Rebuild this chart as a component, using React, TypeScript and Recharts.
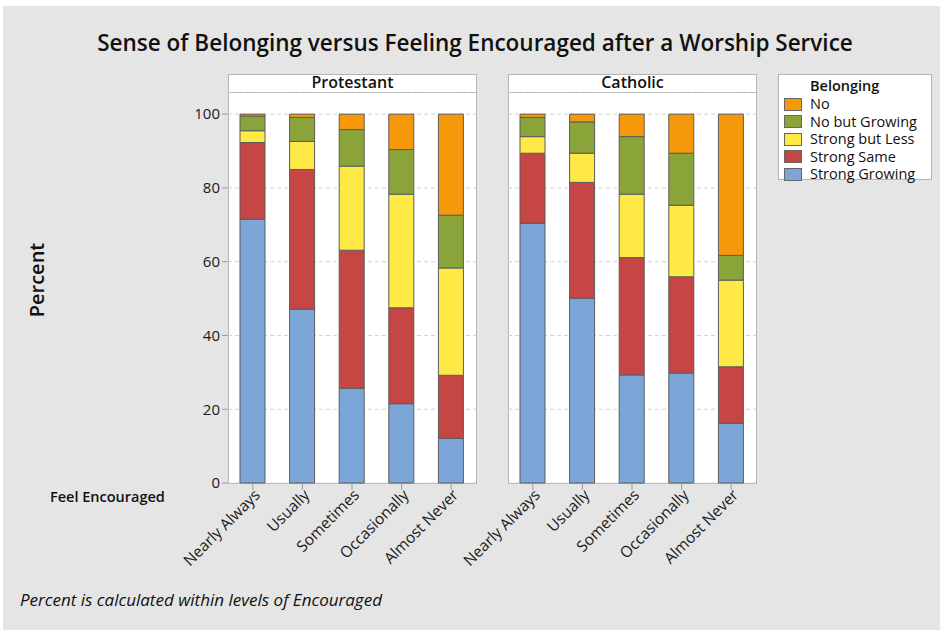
import React from "react";
import { Bar, BarChart, CartesianGrid, XAxis, YAxis } from "recharts";

const categories = ["Nearly Always", "Usually", "Sometimes", "Occasionally", "Almost Never"];

// percent within each level of Encouraged, bottom to top
const protStrongGrowing = [71.5, 47.1, 25.7, 21.5, 12.1];
const protStrongSame = [20.8, 37.9, 37.4, 26.0, 17.1];
const protStrongLess = [3.2, 7.6, 22.8, 30.8, 29.1];
const protNoGrowing = [4.0, 6.5, 9.9, 12.1, 14.3];
const protNo = [0.5, 0.9, 4.2, 9.6, 27.4];

const cathStrongGrowing = [70.4, 50.1, 29.3, 29.8, 16.2];
const cathStrongSame = [19.0, 31.4, 31.8, 26.1, 15.3];
const cathStrongLess = [4.5, 7.9, 17.2, 19.4, 23.5];
const cathNoGrowing = [5.2, 8.5, 15.6, 14.1, 6.7];
const cathNo = [0.9, 2.1, 6.1, 10.6, 38.3];

const yTicks = [0, 20, 40, 60, 80, 100];

const series = [
  { key: "strongGrowing", name: "Strong Growing", color: "#7ca6d8" },
  { key: "strongSame", name: "Strong Same", color: "#c64545" },
  { key: "strongLess", name: "Strong but Less", color: "#ffe946" },
  { key: "noGrowing", name: "No but Growing", color: "#8aa43a" },
  { key: "no", name: "No", color: "#f5980a" },
];

const build = (sg: number[], ss: number[], sl: number[], ng: number[], no: number[]) =>
  categories.map((c, i) => ({
    cat: c,
    strongGrowing: sg[i],
    strongSame: ss[i],
    strongLess: sl[i],
    noGrowing: ng[i],
    no: no[i],
  }));

const protestantData = build(protStrongGrowing, protStrongSame, protStrongLess, protNoGrowing, protNo);
const catholicData = build(cathStrongGrowing, cathStrongSame, cathStrongLess, cathNoGrowing, cathNo);

const FONT = "'Open Sans', 'Noto Sans', sans-serif";

const AngledTick = (props: any) => {
  const { x, y, payload } = props;
  return (
    <g transform={`translate(${x},${y}) rotate(-45)`}>
      <text
        x={3}
        y={0}
        dy="0.55em"
        textAnchor="end"
        fontSize={15.5}
        fontFamily={FONT}
        fill="#1a1a1a"
      >
        {payload.value}
      </text>
    </g>
  );
};

// both panels use the same svg size; the Catholic one keeps the left room for its labels
function Panel({ data, showY }: { data: any[]; showY: boolean }) {
  return (
    <BarChart
      width={330}
      height={491}
      data={data}
      margin={{ top: 0, right: 4, bottom: 0, left: showY ? 0 : 78 }}
    >
      <CartesianGrid vertical={false} stroke="#d2d2d2" strokeDasharray="4 3" />
      <XAxis
        dataKey="cat"
        height={100}
        interval={0}
        tick={<AngledTick />}
        tickSize={7}
        tickLine={{ stroke: "#9a9a9a" }}
        axisLine={false}
      />
      <YAxis
        hide={!showY}
        width={78}
        domain={[0, 106]}
        ticks={yTicks}
        tickSize={6}
        tickLine={{ stroke: "#9a9a9a" }}
        axisLine={false}
        tick={{ fontSize: 15, fill: "#1a1a1a", fontFamily: FONT }}
      />
      {series.map((s) => (
        <Bar
          key={s.key}
          dataKey={s.key}
          name={s.name}
          stackId="a"
          fill={s.color}
          stroke="#5c5c5c"
          strokeWidth={1}
          barSize={25}
          isAnimationActive={false}
        />
      ))}
    </BarChart>
  );
}

const abs = (l: number, t: number, w: number, h: number): React.CSSProperties => ({
  position: "absolute",
  left: l,
  top: t,
  width: w,
  height: h,
  boxSizing: "border-box",
});

export default function App() {
  return (
    <div style={{ ...abs(0, 0, 942, 632), background: "#fff", fontFamily: FONT, color: "#111" }}>
      <div style={{ ...abs(3, 6, 937, 624), background: "#e5e5e5" }} />
      <div
        style={{
          ...abs(0, 27, 950, 34),
          textAlign: "center",
          fontSize: 22.5,
          fontWeight: 600,
        }}
      >
        Sense of Belonging versus Feeling Encouraged after a Worship Service
      </div>

      {/* panel frames */}
      {[
        { left: 228, label: "Protestant" },
        { left: 508, label: "Catholic" },
      ].map((p) => (
        <React.Fragment key={p.label}>
          <div
            style={{
              ...abs(p.left, 74, 249, 19),
              background: "#fff",
              border: "1px solid #b4b4b4",
              textAlign: "center",
              fontSize: 16,
              fontWeight: 600,
              lineHeight: "14px",
            }}
          >
            {p.label}
          </div>
          <div style={{ ...abs(p.left, 92, 249, 392), background: "#fff", border: "1px solid #b4b4b4" }} />
        </React.Fragment>
      ))}

      <div style={abs(150, 92, 330, 491)}>
        <Panel data={protestantData} showY />
      </div>
      <div style={abs(430, 92, 330, 491)}>
        <Panel data={catholicData} showY={false} />
      </div>

      <div
        style={{
          position: "absolute",
          left: 36,
          top: 280,
          transform: "translate(-50%, -50%) rotate(-90deg)",
          fontSize: 20,
          fontWeight: 600,
          whiteSpace: "nowrap",
        }}
      >
        Percent
      </div>
      <div style={{ position: "absolute", left: 50, top: 487, fontSize: 14.5, fontWeight: 600 }}>
        Feel Encouraged
      </div>
      <div style={{ position: "absolute", left: 20, top: 588, fontSize: 17, fontStyle: "italic" }}>
        Percent is calculated within levels of Encouraged
      </div>

      {/* legend */}
      <div
        style={{
          ...abs(778, 74, 154, 106),
          background: "#fff",
          border: "1px solid #b4b4b4",
          fontSize: 14.5,
        }}
      >
        <div style={{ position: "absolute", left: 31, top: 3, fontWeight: 600, lineHeight: "16px" }}>Belonging</div>
        {series
          .slice()
          .reverse()
          .map((s, i) => (
            <div key={s.key} style={{ position: "absolute", left: 5, top: 21 + i * 17.5, height: 16, display: "flex", alignItems: "center" }}>
              <span
                style={{
                  display: "inline-block",
                  width: 18,
                  height: 13,
                  background: s.color,
                  border: "1px solid #666",
                  boxSizing: "border-box",
                  marginRight: 8,
                }}
              />
              <span style={{ fontWeight: 500, lineHeight: "16px" }}>{s.name}</span>
            </div>
          ))}
      </div>
    </div>
  );
}
